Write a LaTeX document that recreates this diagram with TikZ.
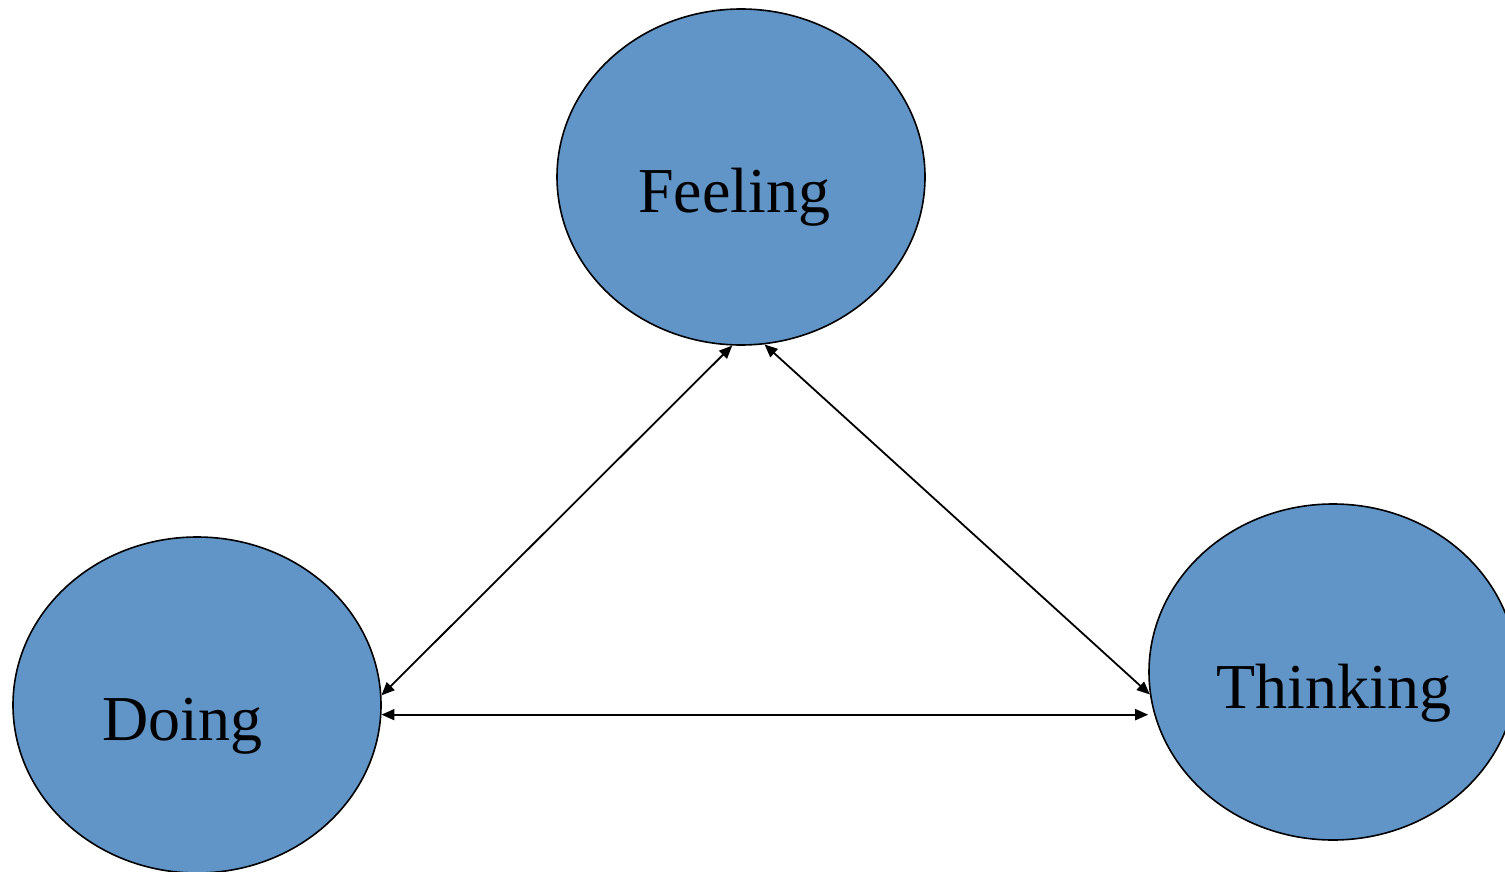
\documentclass[tikz,border=0pt]{standalone}
\usepackage{fontspec}
\setmainfont{Liberation Serif}
\usetikzlibrary{shapes.geometric,arrows.meta}
\definecolor{bubbleblue}{RGB}{97,149,199}

\begin{document}
\begin{tikzpicture}[
    x=1pt,
    y=-1pt,
    bubble/.style={ellipse, draw=black, line width=1.6pt, fill=bubbleblue,
                   minimum width=368pt, minimum height=336pt, inner sep=0pt},
    word/.style={anchor=base, inner sep=0pt, font=\fontsize{64}{70}\selectfont},
    link/.style={line width=1.8pt, {Triangle[length=13pt,width=11pt]}-{Triangle[length=13pt,width=11pt]}}
]

% Frame
\useasboundingbox (0,0) rectangle (1505,872);

% Ellipses
\node[bubble] (feel)  at (741,177)  {};
\node[bubble] (doing) at (197,705)  {};
\node[bubble] (think) at (1333,672) {};

% Labels
\node[word] (feeltxt)  at (734,212)  {Feeling};
\node[word] (doingtxt) at (182,740)  {Doing};
\node[word] (thinktxt) at (1334,708) {Thinking};

% Arrows between the ellipses
\draw[link] (doing.3) -- (feel.267);
\draw[link] (feel.278) -- (think.187);
\draw[link] (doing.357) -- (doing.357 -| think.west);

\end{tikzpicture}
\end{document}
